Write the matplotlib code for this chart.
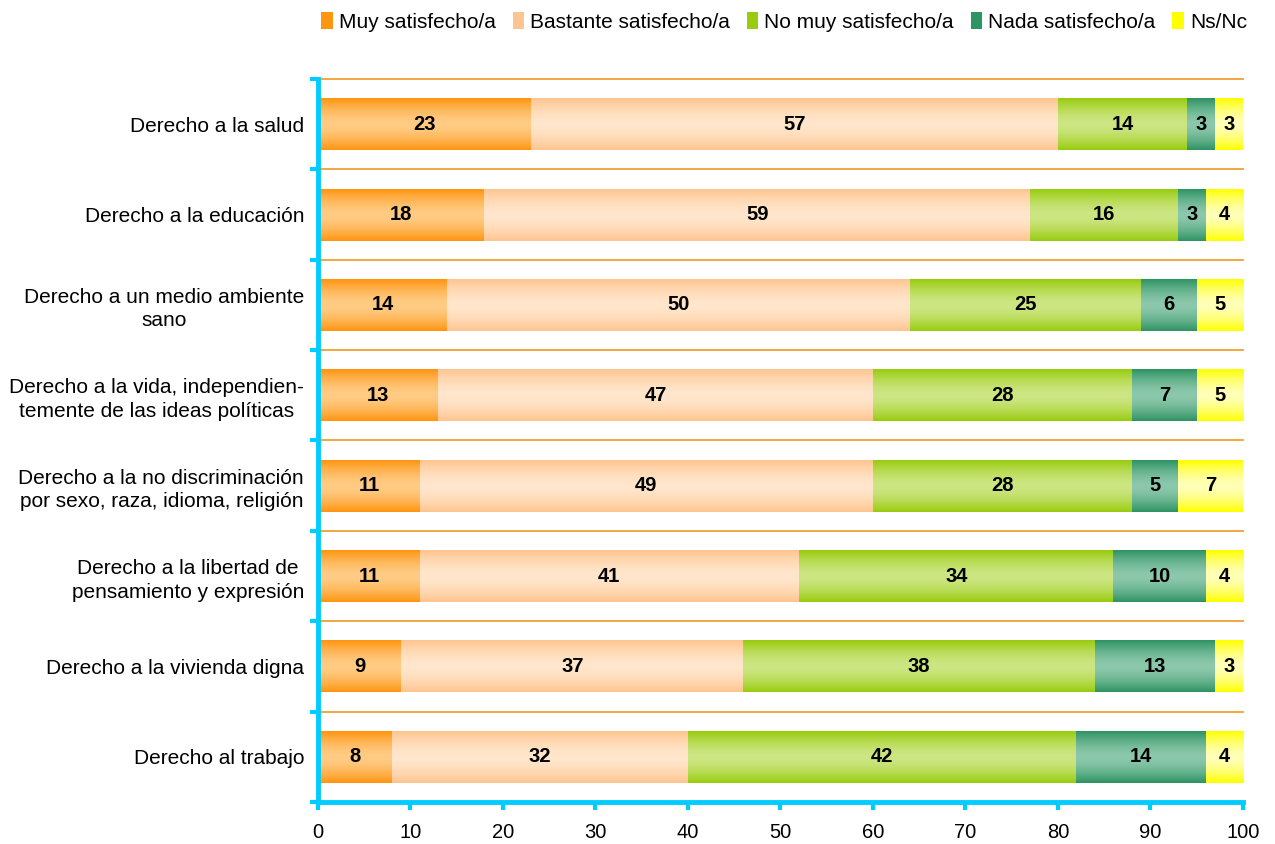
import numpy as np
import matplotlib.pyplot as plt
from matplotlib.colors import LinearSegmentedColormap
from matplotlib.patches import Patch

plt.rcParams['font.family'] = ['Liberation Sans', 'DejaVu Sans']

categorias = ['Derecho a la salud', 'Derecho a la educación',
              'Derecho a un medio ambiente\nsano',
              'Derecho a la vida, independien-\ntemente de las ideas políticas',
              'Derecho a la no discriminación\npor sexo, raza, idioma, religión',
              'Derecho a la libertad de\npensamiento y expresión',
              'Derecho a la vivienda digna', 'Derecho al trabajo']
muy = [23, 18, 14, 13, 11, 11, 9, 8]
bastante = [57, 59, 50, 47, 49, 41, 37, 32]
no_muy = [14, 16, 25, 28, 28, 34, 38, 42]
nada = [3, 3, 6, 7, 5, 10, 13, 14]
nsnc = [3, 4, 5, 5, 7, 4, 3, 4]
series = ['Muy satisfecho/a', 'Bastante satisfecho/a', 'No muy satisfecho/a',
          'Nada satisfecho/a', 'Ns/Nc']

# (edge colour, centre colour) of the vertical gradient
colores = [('#FF9510', '#FFCC85'), ('#FFC590', '#FFE6CC'), ('#99CC0F', '#CDE683'),
           ('#2F9463', '#8CC8AC'), ('#FFFF00', '#FFFFB8')]

fig = plt.figure(figsize=(12.75, 8.44), dpi=100)
ax = fig.add_axes([0.2494, 0.0498, 0.7255, 0.8566])

y = np.arange(len(categorias))
alto = 0.575
izq = np.zeros(len(categorias))
grad = np.abs(np.linspace(-1, 1, 64)).reshape(-1, 1) ** 1.6
for vals, (borde, centro), nombre in zip([muy, bastante, no_muy, nada, nsnc], colores, series):
    cmap = LinearSegmentedColormap.from_list(nombre, [centro, borde])
    barras = ax.barh(y, vals, left=izq, height=alto, color=borde, edgecolor='none', label=nombre)
    for b in barras:
        x0, y0 = b.get_x(), b.get_y()
        im = ax.imshow(grad, cmap=cmap, aspect='auto', vmin=0, vmax=1,
                       extent=[x0, x0 + b.get_width(), y0, y0 + b.get_height()], zorder=2)
        im.set_clip_path(b)
    for yi, l, v in zip(y, izq, vals):
        ax.text(l + v / 2, yi, str(v), ha='center', va='center', fontsize=14.5,
                fontweight='bold', zorder=3)
    izq += np.array(vals)

ax.set_xlim(0, 100)
ax.set_ylim(len(categorias) - 0.5, -0.5)
ax.set_xticks(range(0, 101, 10))
ax.set_yticks(np.arange(-0.5, len(categorias), 1))
ax.set_yticklabels([])
ax.set_yticks(y, minor=True)
ax.set_yticklabels(categorias, minor=True, fontsize=15, ha='right',
                   multialignment='center', linespacing=1.3)
ax.tick_params(axis='y', which='minor', length=0, pad=10)
ax.tick_params(axis='y', which='major', length=6, width=3, color='#00CCFF')
ax.tick_params(axis='x', length=6, width=3, color='#00CCFF', labelsize=14.5, pad=9)
for yb in np.arange(-0.5, len(categorias) - 1, 1):
    ax.axhline(yb, color='#F0A030', lw=1.3, zorder=1, clip_on=False)
for s in ['top', 'right']:
    ax.spines[s].set_visible(False)
for s in ['left', 'bottom']:
    ax.spines[s].set_color('#00CCFF')
    ax.spines[s].set_linewidth(3.5)

handles = [Patch(facecolor=c[0], edgecolor='none') for c in colores]
fig.legend(handles, series, loc='upper center', bbox_to_anchor=(0.615, 1.008), ncol=5,
           frameon=False, fontsize=15, handlelength=0.55, handleheight=0.85,
           handletextpad=0.3, columnspacing=0.8)

fig.savefig('out.png', dpi=100)
